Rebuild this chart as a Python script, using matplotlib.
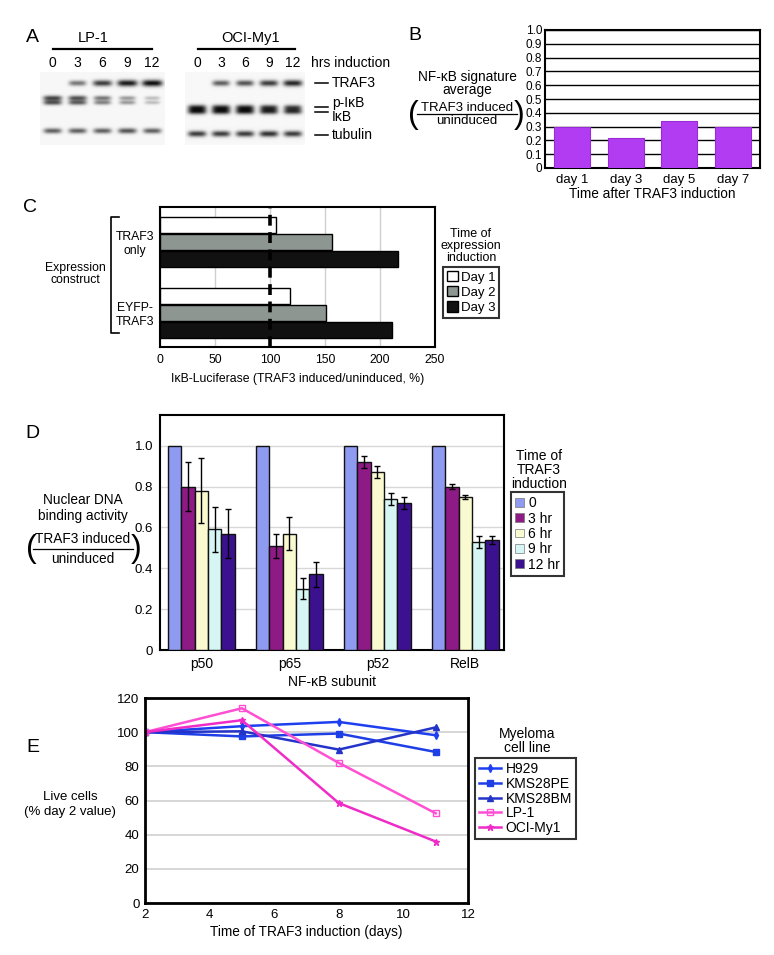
import numpy as np
import matplotlib
matplotlib.use('Agg')
import matplotlib.pyplot as plt
from matplotlib.lines import Line2D
from matplotlib.patches import Patch

plt.rcParams['font.family'] = ['Liberation Sans', 'DejaVu Sans']
plt.rcParams['font.size'] = 9.5

W, H = 774, 955

# A: western blot band intensities (0 = no band, 1 = darkest)
lane_hrs = ['0', '3', '6', '9', '12']
lp1_traf3 = [0.0, 0.55, 0.8, 0.95, 1.0]
lp1_pikb = [0.75, 0.7, 0.55, 0.4, 0.25]
lp1_ikb = [0.7, 0.65, 0.5, 0.4, 0.25]
lp1_tub = [0.65, 0.65, 0.65, 0.7, 0.65]
oci_traf3 = [0.0, 0.65, 0.7, 0.8, 0.9]
oci_pikb = [0.8, 0.8, 0.8, 0.75, 0.7]
oci_ikb = [0.85, 0.85, 0.85, 0.8, 0.78]
oci_tub = [0.8, 0.8, 0.8, 0.85, 0.8]

# B: NF-kB signature average
b_days = ['day 1', 'day 3', 'day 5', 'day 7']
b_signature = [0.30, 0.22, 0.34, 0.30]

# C: IkB-luciferase
c_constructs = ['TRAF3\nonly', 'EYFP-\nTRAF3']
c_days = ['Day 1', 'Day 2', 'Day 3']
c_traf3_only = [105, 156, 216]
c_eyfp_traf3 = [118, 151, 211]

# D: nuclear DNA binding
d_subunits = ['p50', 'p65', 'p52', 'RelB']
d_times = ['0', '3 hr', '6 hr', '9 hr', '12 hr']
d_vals = {
    'p50': [1.0, 0.80, 0.78, 0.59, 0.57],
    'p65': [1.0, 0.51, 0.57, 0.30, 0.37],
    'p52': [1.0, 0.92, 0.87, 0.74, 0.72],
    'RelB': [1.0, 0.80, 0.75, 0.53, 0.54],
}
d_errs = {
    'p50': [0, 0.12, 0.16, 0.11, 0.12],
    'p65': [0, 0.06, 0.08, 0.05, 0.06],
    'p52': [0, 0.03, 0.03, 0.03, 0.03],
    'RelB': [0, 0.01, 0.01, 0.03, 0.02],
}

# E: live cells
e_days = [2, 5, 8, 11]
e_h929 = [100, 103.5, 106, 98.2]
e_kms28pe = [100, 97.5, 99.2, 88.4]
e_kms28bm = [100, 100.5, 89.8, 102.8]
e_lp1 = [100, 114, 82, 52.5]
e_ocimy1 = [100, 107, 58.5, 36]

fig = plt.figure(figsize=(W / 100, H / 100), dpi=100)


def px_axes(left, top, right, bottom):
    return fig.add_axes([left / W, 1 - bottom / H, (right - left) / W, (bottom - top) / H])


def ft(x, y, s, **kw):
    kw.setdefault('ha', 'center')
    kw.setdefault('va', 'center')
    return fig.text(x / W, 1 - y / H, s, **kw)


def fline(xs, ys, **kw):
    kw.setdefault('color', 'k')
    kw.setdefault('lw', 1.2)
    fig.add_artist(Line2D([x / W for x in xs], [1 - y / H for y in ys], **kw))


def fraction(cx, y_num, y_den, x0, x1, fs=9.5):
    ft(cx, y_num, 'TRAF3 induced', fontsize=fs)
    fline([cx - 50, cx + 50], [(y_num + y_den) / 2] * 2, lw=0.9)
    ft(cx, y_den, 'uninduced', fontsize=fs)
    ft(x0, (y_num + y_den) / 2, '(', fontsize=23, fontweight='light')
    ft(x1, (y_num + y_den) / 2, ')', fontsize=23, fontweight='light')


# ---------------- A ----------------
def blot(ax, rows):
    xs = np.linspace(-0.5, 4.5, 250)
    ys = np.linspace(0, 73, 146)
    X, Y = np.meshgrid(xs, ys)
    dark = np.zeros_like(X)
    for yc, vals, hh in rows:
        for i, v in enumerate(vals):
            wx = 0.27 + 0.14 * v
            dark += v * np.exp(-(np.abs(X - i) / wx) ** 4) * \
                np.exp(-((Y - yc) / (hh + 1.3 * v)) ** 2)
    img = 0.97 - 0.92 * np.clip(dark, 0, 1)
    ax.imshow(img, cmap='gray', vmin=0, vmax=1, extent=(-0.5, 4.5, 73, 0),
              aspect='auto', interpolation='bilinear')
    ax.set_xlim(-0.5, 4.5)
    ax.set_ylim(73, -12)
    ax.axis('off')
    for i, lbl in enumerate(lane_hrs):
        ax.text(i, -9, lbl, ha='center', va='center', fontsize=10)


axA1 = px_axes(39.5, 60, 164.5, 145)
blot(axA1, [(11, lp1_traf3, 2.0), (26, lp1_pikb, 1.6), (30.5, lp1_ikb, 1.6),
            (59, lp1_tub, 1.8)])
axA2 = px_axes(185, 60, 305, 145)
blot(axA2, [(11, oci_traf3, 2.0), (35.5, oci_pikb, 1.8), (39.5, oci_ikb, 1.8),
            (62, oci_tub, 1.9)])

ft(32, 37, 'A', fontsize=14)
ft(93, 38, 'LP-1', fontsize=10.5)
fline([53, 152], [49, 49], lw=1.6)
ft(251, 38, 'OCI-My1', fontsize=10.5)
fline([198, 295], [49, 49], lw=1.6)
ft(311, 63, 'hrs induction', fontsize=10, ha='left')
fline([315, 328], [83, 83], lw=1.1)
ft(332, 83, 'TRAF3', fontsize=10, ha='left')
fline([315, 328], [107, 107], lw=1.1)
fline([315, 328], [112, 112], lw=1.1)
ft(332, 103, 'p-IκB', fontsize=10, ha='left')
ft(332, 117, 'IκB', fontsize=10, ha='left')
fline([315, 328], [135, 135], lw=1.1)
ft(332, 135, 'tubulin', fontsize=10, ha='left')

# ---------------- B ----------------
axB = px_axes(545, 30, 760, 168)
axB.bar(range(len(b_days)), b_signature, width=0.67, color='#b23cf2',
        edgecolor='#9a2ad8', lw=0.8, zorder=3)
axB.set_xlim(-0.5, len(b_days) - 0.5)
axB.set_ylim(0, 1.0)
bt = np.round(np.arange(0, 1.01, 0.1), 1)
axB.set_yticks(bt, ['0'] + [f'{v:.1f}' for v in bt[1:]], fontsize=8.5)
axB.yaxis.grid(True, color='k', lw=1.0, zorder=1)
axB.set_xticks(range(len(b_days)), b_days, fontsize=9.5)
axB.tick_params(length=0, pad=2)
axB.tick_params(axis='x', pad=4)
for s in axB.spines.values():
    s.set_linewidth(1.5)
axB.set_xlabel('Time after TRAF3 induction', fontsize=9.8, labelpad=1)
ft(415, 35, 'B', fontsize=14)
ft(467, 77, 'NF-κB signature', fontsize=9.8)
ft(467, 90, 'average', fontsize=9.8)
fraction(467, 108, 121, 413, 519)

# ---------------- C ----------------
axC = px_axes(160, 207, 435, 347)
c_cols = ['white', '#8e9692', '#111111']
c_off = [-0.24, 0.0, 0.24]
yc = np.arange(len(c_constructs))
for i, day in enumerate(c_days):
    axC.barh(yc + c_off[i], [c_traf3_only[i], c_eyfp_traf3[i]], height=0.225,
             color=c_cols[i], edgecolor='k', lw=1.0, zorder=3, label=day)
axC.axvline(100, color='k', lw=2.6, ls=(0, (3, 1.8)), zorder=4)
axC.set_xlim(0, 250)
axC.set_ylim(1.48, -0.49)
axC.set_xticks(range(0, 251, 50))
axC.xaxis.grid(True, color='#cfcfcf', lw=1.0, zorder=1)
axC.set_yticks(yc, c_constructs, fontsize=8.8)
for lbl in axC.get_yticklabels():
    lbl.set_multialignment('center')
axC.tick_params(length=0, pad=4)
axC.tick_params(axis='x', labelsize=8.8, pad=5)
for s in axC.spines.values():
    s.set_linewidth(1.5)
axC.set_xlabel('IκB-Luciferase (TRAF3 induced/uninduced, %)', fontsize=8.8,
               labelpad=5)
ft(30, 207, 'C', fontsize=14)
fline([119, 111, 111, 119], [217, 217, 333, 333], lw=1.2)
ft(75, 274, 'Expression\nconstruct', fontsize=8.8, linespacing=1.1)
ft(471, 246, 'Time of\nexpression\ninduction', fontsize=9, linespacing=1.05)
hC, lC = axC.get_legend_handles_labels()
legC = fig.legend(hC, lC, loc='upper left', bbox_to_anchor=(443 / W, 1 - 267 / H),
                  fontsize=9.5, frameon=True, fancybox=False, edgecolor='k',
                  handlelength=0.8, handleheight=0.8, handletextpad=0.25,
                  borderpad=0.3, labelspacing=0.2, borderaxespad=0)
legC.get_frame().set_linewidth(1.5)

# ---------------- D ----------------
axD = px_axes(160, 415, 504, 650)
d_cols = ['#8f9bf0', '#8e1a86', '#fafad0', '#d6f6f5', '#3c1190']
d_w = 0.152
xd = np.arange(len(d_subunits))
for j, t in enumerate(d_times):
    vals = [d_vals[s][j] for s in d_subunits]
    errs = [d_errs[s][j] for s in d_subunits]
    axD.bar(xd + (j - 2) * d_w, vals, width=d_w, color=d_cols[j],
            edgecolor='#111111', lw=1.0, zorder=3, label=t,
            yerr=errs if any(errs) else None, capsize=2.2,
            error_kw=dict(lw=1.0, capthick=1.0, ecolor='k', zorder=4))
axD.set_xlim(-0.47, 3.44)
axD.set_ylim(0, 1.15)
dt = np.round(np.arange(0, 1.01, 0.2), 1)
axD.set_yticks(dt, ['0'] + [f'{v:.1f}' for v in dt[1:]], fontsize=9.5)
axD.yaxis.grid(True, color='#d8d8d8', lw=1.0, zorder=1)
axD.set_xticks(xd, d_subunits, fontsize=10)
axD.tick_params(length=0, pad=5)
for s in axD.spines.values():
    s.set_linewidth(1.5)
axD.set_xlabel('NF-κB subunit', fontsize=10, labelpad=3)
ft(32, 433, 'D', fontsize=14)
ft(83, 500, 'Nuclear DNA', fontsize=9.8)
ft(83, 516, 'binding activity', fontsize=9.8)
fraction(83, 539, 559, 31, 136, fs=9.8)
ft(539, 470, 'Time of\nTRAF3\ninduction', fontsize=10, linespacing=1.0)
hD, lD = axD.get_legend_handles_labels()
hD = [Patch(facecolor=c, edgecolor='#777777', lw=0.5) for c in d_cols]
legD = fig.legend(hD, lD, loc='upper left', bbox_to_anchor=(511 / W, 1 - 492 / H),
                  fontsize=10, frameon=True, fancybox=False, edgecolor='k',
                  handlelength=0.6, handleheight=0.6, handletextpad=0.35,
                  borderpad=0.3, labelspacing=0.1, borderaxespad=0)
legD.get_frame().set_linewidth(1.5)

# ---------------- E ----------------
axE = px_axes(145, 698, 468, 903)
axE.plot(e_days, e_h929, color='#1d3ff0', lw=1.8, marker='d', ms=4, label='H929')
axE.plot(e_days, e_kms28pe, color='#1e3ee6', lw=1.8, marker='s', ms=4.5,
         label='KMS28PE')
axE.plot(e_days, e_kms28bm, color='#2434c8', lw=1.8, marker='^', ms=4.5,
         label='KMS28BM')
axE.plot(e_days, e_lp1, color='#ff4fd2', lw=1.8, marker='s', ms=5, mfc='none',
         label='LP-1')
axE.plot(e_days, e_ocimy1, color='#f02cc8', lw=1.8, marker='*', ms=5,
         label='OCI-My1')
axE.set_xlim(2, 12)
axE.set_ylim(0, 120)
axE.set_xticks(range(2, 13, 2))
axE.set_yticks(range(0, 121, 20))
axE.yaxis.grid(True, color='#d0d0d0', lw=1.2, zorder=0)
axE.tick_params(length=0, labelsize=9.5, pad=4)
for s in axE.spines.values():
    s.set_linewidth(2.0)
axE.set_xlabel('Time of TRAF3 induction (days)', fontsize=9.8, labelpad=3)
ft(33, 747, 'E', fontsize=14)
ft(70, 797, 'Live cells', fontsize=9.5)
ft(70, 812, '(% day 2 value)', fontsize=9.5)
ft(527, 741, 'Myeloma\ncell line', fontsize=10, linespacing=1.0)
hE, lE = axE.get_legend_handles_labels()
legE = fig.legend(hE, lE, loc='upper left', bbox_to_anchor=(475 / W, 1 - 758 / H),
                  fontsize=10, frameon=True, fancybox=False, edgecolor='k',
                  handlelength=1.6, handletextpad=0.3, borderpad=0.3,
                  labelspacing=0.05, borderaxespad=0)
legE.get_frame().set_linewidth(1.5)

fig.savefig('out.png', dpi=100, facecolor='white')
